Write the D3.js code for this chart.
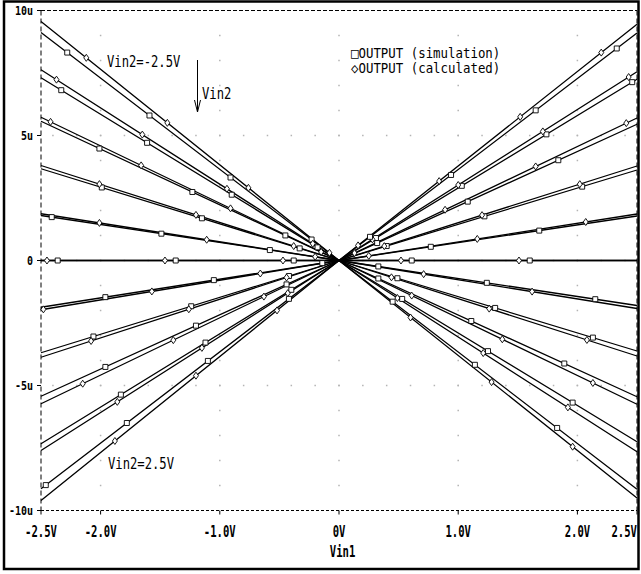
<!DOCTYPE html>
<html>
<head>
<meta charset="utf-8">
<script src="https://cdn.jsdelivr.net/npm/d3@7"></script>
<style>
  body { margin: 0; background: #fff; }
  svg { display: block; }
  text { font-family: "DejaVu Sans Mono", monospace; fill: #000; }
</style>
</head>
<body>
<svg></svg>
<script>
// Vin2 steps, one pair of traces per step
const vin2 = [-2.5, -2, -1.5, -1, -0.5, 0, 0.5, 1, 1.5, 2, 2.5]

// OUTPUT (u) read at Vin1 = -2.5V and Vin1 = +2.5V
const simLeft   = [9.12, 7.31, 5.57, 3.67, 1.80, 0, -1.87, -3.69, -5.43, -7.33, -9.13]
const simRight  = [-9.15, -7.25, -5.45, -3.62, -1.80, 0, 1.78, 3.62, 5.45, 7.25, 9.10]
const calcLeft  = [9.56, 7.63, 5.73, 3.80, 1.87, 0, -1.97, -3.87, -5.73, -7.60, -9.60]
const calcRight = [-9.50, -7.65, -5.75, -3.82, -1.92, 0, 1.86, 3.78, 5.70, 7.55, 9.45]

// Vin1 positions of the markers on each trace
const simMarks = [
  [-2.28, -1.59, -0.91, -0.23, 0.45, 1.14, 1.83],
  [-2.33, -1.61, -0.90, -0.18, 0.53, 1.25, 1.96],
  [-2.01, -1.23, -0.45, 0.33, 1.11, 1.89],
  [-1.99, -1.15, -0.33, 0.49, 1.31, 2.13],
  [-2.41, -1.49, -0.58, 0.33, 1.24, 2.15],
  [-2.36, -1.37, -0.38, 0.61, 1.60],
  [-1.96, -1.05, -0.14, 0.77, 1.68],
  [-2.06, -1.24, -0.42, 0.40, 1.22, 2.04],
  [-1.96, -1.20, -0.44, 0.32, 1.08, 1.84],
  [-1.83, -1.12, -0.40, 0.31, 1.03, 1.74, 2.46],
  [-2.46, -1.78, -1.10, -0.42, 0.26, 0.94, 1.65, 2.33]
]
const calcMarks = [
  [-2.12, -1.44, -0.76, -0.08, 0.60, 1.28, 1.96],
  [-2.37, -1.65, -0.94, -0.22, 0.49, 1.21, 1.92],
  [-2.42, -1.66, -0.91, -0.15, 0.61, 1.37, 2.13],
  [-2.01, -1.20, -0.38, 0.44, 1.26, 2.08],
  [-2.01, -1.11, -0.20, 0.71, 1.62],
  [-2.45, -1.46, -0.47, 0.52, 1.51],
  [-2.48, -1.57, -0.66, 0.25, 1.16, 2.07],
  [-2.08, -1.26, -0.44, 0.38, 1.20, 2.02],
  [-2.15, -1.39, -0.63, 0.13, 0.89, 1.65, 2.41],
  [-1.86, -1.15, -0.43, 0.28, 1.00, 1.71, 2.43],
  [-1.88, -1.20, -0.52, 0.16, 0.84, 1.52, 2.20]
]

const xTicks = [-2.5, -2, -1, 0, 1, 2, 2.5]
const xTickLabels = ["-2.5V", "-2.0V", "-1.0V", "0V", "1.0V", "2.0V", "2.5V"]
const yTicks = [10, 5, 0, -5, -10]
const yTickLabels = ["10u", "5u", "0", "-5u", "-10u"]
const gridCols = [-2, -1, 0, 1, 2]
const gridRows = [5, 0, -5]

const W = 641, H = 574

let x = d3.scaleLinear().domain([-2.5, 2.5]).range([41, 637])
let y = d3.scaleLinear().domain([-10, 10]).range([510.5, 10.5])

let svg = d3.select("svg").attr("width", W).attr("height", H)

// outer frame
svg.append("rect")
  .attr("x", 4).attr("y", 1.5)
  .attr("width", 634.5).attr("height", 567.5)
  .attr("fill", "none").attr("stroke", "#000").attr("stroke-width", 2.5)

// dotted grid
let grid = svg.append("g").attr("fill", "#b4b4b4")
gridCols.forEach(c => {
  d3.range(-9, 10, 1).forEach(v => {
    grid.append("rect").attr("x", x(c) - 0.75).attr("y", y(v) - 0.75).attr("width", 1.5).attr("height", 1.5)
  })
})
gridRows.forEach(r => {
  d3.range(-2.4, 2.45, 0.2).forEach(v => {
    grid.append("rect").attr("x", x(v) - 0.75).attr("y", y(r) - 0.75).attr("width", 1.5).attr("height", 1.5)
  })
})

// dashed plot border
let border = svg.append("g").attr("stroke", "#000").attr("stroke-width", 1)
border.append("line").attr("x1", x(-2.5)).attr("x2", x(2.5)).attr("y1", y(10)).attr("y2", y(10)).attr("stroke-dasharray", "4,2")
border.append("line").attr("x1", x(-2.5)).attr("x2", x(2.5)).attr("y1", y(-10)).attr("y2", y(-10)).attr("stroke-dasharray", "3,2")
border.append("line").attr("x1", x(-2.5)).attr("x2", x(-2.5)).attr("y1", y(10)).attr("y2", y(-10)).attr("stroke-dasharray", "5,3")
border.append("line").attr("x1", x(2.5)).attr("x2", x(2.5)).attr("y1", y(10)).attr("y2", y(-10)).attr("stroke-dasharray", "5,3")

// ticks
xTicks.forEach(t => {
  border.append("line").attr("x1", x(t)).attr("x2", x(t)).attr("y1", y(-10)).attr("y2", y(-10) + 4)
})
yTicks.forEach(t => {
  border.append("line").attr("x1", x(-2.5) - 4).attr("x2", x(-2.5)).attr("y1", y(t)).attr("y2", y(t))
})

// traces
let line = d3.line().x(d => x(d[0])).y(d => y(d[1]))
let traces = []
vin2.forEach((v, i) => {
  traces.push({ vin2: v, kind: "sim", pts: [[-2.5, simLeft[i]], [0, 0], [2.5, simRight[i]]], marks: simMarks[i] })
  traces.push({ vin2: v, kind: "calc", pts: [[-2.5, calcLeft[i]], [0, 0], [2.5, calcRight[i]]], marks: calcMarks[i] })
})

svg.append("g")
  .selectAll("path")
  .data(traces)
  .enter().append("path")
  .attr("d", d => line(d.pts))
  .attr("fill", "none")
  .attr("stroke", "#000")
  .attr("stroke-width", 1.3)

const square = "M-2.5,-2.5h5v5h-5z"
const diamond = "M0,-3.5L2.5,0L0,3.5L-2.5,0Z"

let markG = svg.append("g")
traces.forEach(tr => {
  // position on the trace through the trace's own scale
  let onTrace = d3.scaleLinear().domain(tr.pts.map(p => p[0])).range(tr.pts.map(p => p[1]))
  markG.selectAll(null)
    .data(tr.marks)
    .enter().append("path")
    .attr("d", tr.kind === "sim" ? square : diamond)
    .attr("transform", d => "translate(" + x(d) + "," + y(onTrace(d)) + ")")
    .attr("fill", "#fff")
    .attr("stroke", "#000")
    .attr("stroke-width", 0.9)
})

function label(str, px, py, size, sy, opts) {
  opts = opts || {}
  return svg.append("text")
    .attr("transform", "translate(" + px + "," + py + ") scale(1," + sy + ")")
    .attr("font-size", size)
    .attr("font-weight", opts.bold ? "bold" : "normal")
    .attr("text-anchor", opts.anchor || "start")
    .text(str)
}

// axis labels
xTicks.forEach((t, i) => {
  let px = x(t), anchor = "middle"
  if (t === 2.5) { px = 637; anchor = "end" }
  label(xTickLabels[i], px, 536.5, 10.6, 1.5, { bold: true, anchor: anchor })
})
yTicks.forEach((t, i) => {
  label(yTickLabels[i], 33, y(t) + 4.3, 10, 1.17, { bold: true, anchor: "end" })
})
label("Vin1", 342.5, 556.5, 10.6, 1.5, { bold: true, anchor: "middle" })

// annotations
label("Vin2=-2.5V", 107, 66.5, 12.2, 1.3)
label("Vin2=2.5V", 108, 468.5, 12.2, 1.3)
label("Vin2", 202, 98.5, 12.2, 1.3)
label("\u25A1OUTPUT (simulation)", 351, 58.3, 12.4, 1.15)
label("\u25C7OUTPUT (calculated)", 351, 73.3, 12.4, 1.15)

// Vin2 direction arrow
let arrow = svg.append("g").attr("stroke", "#000").attr("stroke-width", 1).attr("fill", "none")
arrow.append("line").attr("x1", 197.5).attr("x2", 197.5).attr("y1", 60).attr("y2", 112)
arrow.append("path").attr("d", "M194.5,100L197.5,112L200.5,100")
</script>
</body>
</html>
